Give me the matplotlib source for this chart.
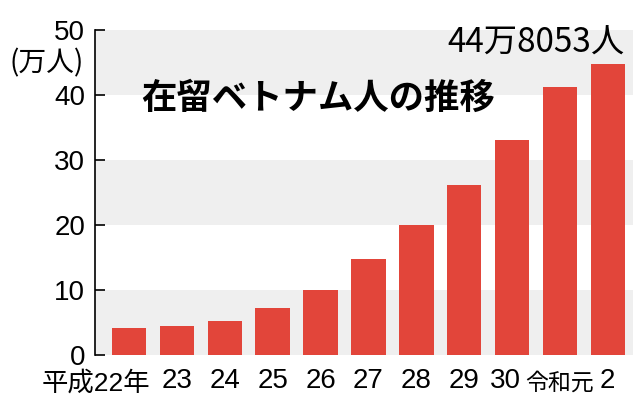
import matplotlib
matplotlib.use('Agg')
import matplotlib.pyplot as plt
import matplotlib.transforms as mtransforms
from matplotlib import font_manager

years = ['平成22年', '23', '24', '25', '26', '27', '28', '29', '30', '令和元', '2']
residents = [4.2, 4.5, 5.2, 7.2, 10.0, 14.7, 20.0, 26.2, 33.1, 41.2, 44.8]
y_ticks = [0, 10, 20, 30, 40, 50]
title = '在留ベトナム人の推移'
last_label = '44万8053人'
unit_label = '(万人)'

installed = {f.name for f in font_manager.fontManager.ttflist}
narrow = 'Liberation Sans Narrow' if 'Liberation Sans Narrow' in installed else 'Liberation Sans'
cjk = 'Noto Sans CJK JP'

bar_color = '#e2453a'
band_color = '#efefef'

fig = plt.figure(figsize=(6.4, 4.0), dpi=100)
ax = fig.add_axes([0.1484, 0.1125, 0.9886 - 0.1484, 0.925 - 0.1125])

x = list(range(len(years)))
ax.set_xlim(-0.71, 10.52)
ax.set_ylim(0, 50)

# grey bands behind the bars
for lo in (0, 20, 40):
    ax.axhspan(lo, lo + 10, color=band_color, lw=0, zorder=0)

ax.bar(x, residents, width=0.72, color=bar_color, zorder=2)

for side in ('top', 'right', 'bottom'):
    ax.spines[side].set_visible(False)
ax.spines['left'].set_linewidth(1.2)

ax.set_yticks(y_ticks)
ax.set_yticklabels([str(v) for v in y_ticks], family=['Liberation Sans', cjk], fontsize=20)
ax.tick_params(axis='y', direction='in', length=7.5, width=1.2, pad=7)

ax.set_xticks(x)
ax.set_xticklabels(years, family=[narrow, cjk], fontsize=20)
ax.tick_params(axis='x', length=0, pad=9)

labels = ax.get_xticklabels()
labels[0].set_fontsize(19)
labels[9].set_fontsize(16.5)


def nudge(label, dx, dy):
    off = mtransforms.ScaledTranslation(dx / 100, dy / 100, fig.dpi_scale_trans)
    label.set_transform(label.get_transform() + off)


# first label sits left of its bar
nudge(labels[0], -33, -3)
nudge(labels[8], -7, 0)
nudge(labels[9], 0, -4)

fig.text(47 / 640, 1 - 63 / 400, unit_label, family=[cjk], fontsize=20,
         ha='center', va='center')

ax.text(3.95, 39.5, title, family=[cjk], fontsize=25.5, fontweight='bold',
        ha='center', va='center', zorder=3)

fig.text(625 / 640, 1 - 43 / 400, last_label, family=[cjk], fontsize=24,
         ha='right', va='center')

fig.savefig('out.png', dpi=100)
